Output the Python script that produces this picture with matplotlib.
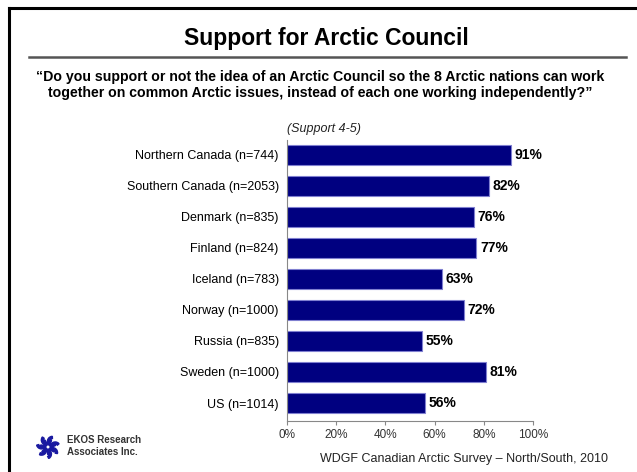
import numpy as np
import matplotlib
matplotlib.use("Agg")
import matplotlib.pyplot as plt
from matplotlib.patches import Wedge
from matplotlib.lines import Line2D

categories = ["Northern Canada (n=744)", "Southern Canada (n=2053)", "Denmark (n=835)",
              "Finland (n=824)", "Iceland (n=783)", "Norway (n=1000)", "Russia (n=835)",
              "Sweden (n=1000)", "US (n=1014)"]
support = [91, 82, 76, 77, 63, 72, 55, 81, 56]
xticks = [0, 20, 40, 60, 80, 100]

plt.rcParams['font.family'] = ['Liberation Sans Narrow', 'Liberation Sans', 'DejaVu Sans']

def main():
    fig = plt.figure(figsize=(6.37, 4.72), dpi=100)

    # frame lines (left and top) and separator under title
    fig.add_artist(Line2D([8.5/637, 8.5/637], [0, 1 - 8/472], color='black', lw=2.2))
    fig.add_artist(Line2D([8.5/637, 1], [1 - 8/472, 1 - 8/472], color='black', lw=2.2))
    fig.add_artist(Line2D([29/637, 626/637], [1 - 57/472, 1 - 57/472], color='#555555', lw=1.8))

    fig.text(0.513, 1 - 38/472, "Support for Arctic Council", ha='center', va='center',
             fontsize=16.5, fontweight='bold', family=['Liberation Sans', 'DejaVu Sans'])
    fig.text(0.503, 1 - 85/472,
             "\u201cDo you support or not the idea of an Arctic Council so the 8 Arctic nations can work\n"
             "together on common Arctic issues, instead of each one working independently?\u201d",
             ha='center', va='center', fontsize=10.2, fontweight='bold', linespacing=1.2)

    ax = fig.add_axes([287/637, 1 - 421/472, 246/637, 281/472])
    y = np.arange(len(categories))
    ax.barh(y, support, height=0.64, color='#000080', edgecolor='#7f7fd0', linewidth=0.8)
    for yi, v in zip(y, support):
        ax.text(v + 1.5, yi, f"{v}%", va='center', ha='left', fontsize=10, fontweight='bold',
                family=['Liberation Sans', 'DejaVu Sans'])
    ax.set_ylim(8.58, -0.48)
    ax.set_xlim(0, 100)
    ax.set_yticks(y)
    ax.set_yticklabels(categories, fontsize=9)
    ax.tick_params(axis='y', length=0, pad=6)
    ax.set_xticks(xticks)
    ax.set_xticklabels([f"{t}%" for t in xticks], fontsize=8.5, color='#333333')
    ax.tick_params(axis='x', length=3, color='#888888', pad=3)
    for s in ['top', 'right']:
        ax.spines[s].set_visible(False)
    ax.spines['left'].set_color('#888888')
    ax.spines['bottom'].set_color('#888888')
    ax.text(0, -0.85, "(Support 4-5)", fontsize=9, style='italic', ha='left', va='center',
            color='#222222')

    # EKOS logo approximation
    lax = fig.add_axes([36/637, 1 - 460/472, 24/637, 26/472])
    lax.set_xlim(-1, 1)
    lax.set_ylim(-1, 1)
    lax.set_aspect('equal')
    lax.axis('off')
    for k in range(7):
        a = k * 360 / 7
        cx, cy = 0.6 * np.cos(np.radians(a)), 0.6 * np.sin(np.radians(a))
        lax.add_patch(Wedge((cx, cy), 0.42, a + 40, a + 260, width=0.18, color='#1a1aa0'))
    fig.text(67/637, 1 - 446/472, "EKOS Research\nAssociates Inc.", fontsize=7, fontweight='bold',
             va='center', ha='left', color='#333333', linespacing=1.15,
             family=['Liberation Sans', 'DejaVu Sans'])

    fig.text(608/637, 1 - 459/472, "WDGF Canadian Arctic Survey \u2013 North/South, 2010",
             fontsize=9, ha='right', va='center', color='#222222')

    fig.savefig("out.png", dpi=100)

if __name__ == "__main__":
    main()
